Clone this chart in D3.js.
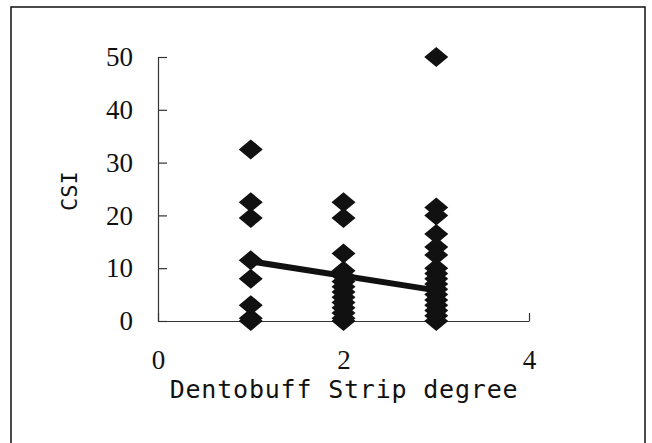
<!DOCTYPE html>
<html>
<head>
<meta charset="utf-8">
<script src="https://cdn.jsdelivr.net/npm/d3@7"></script>
<style>
  body { margin: 0; background: #fff; }
  #root { width: 652px; height: 443px; }
</style>
</head>
<body>
<div id="root"></div>
<script>
// Strip degree groups and the CSI values
const degree1 = [32.5, 22.5, 19.5, 11.5, 8, 3, 0.5, 0];
const degree2 = [22.5, 19.5, 12.8, 9.5, 8.5, 7.5, 6.5, 5.5, 4.5, 3.5, 2.5, 1.5, 0.5, 0];
const degree3 = [50, 21.5, 20, 16.5, 14, 12.5, 10, 9, 8, 7, 6, 5, 4, 3, 2, 1, 0];
const trendX = [1, 3];
const trendY = [11.3, 5.8];
const xTicks = [0, 2, 4];
const yTicks = [0, 10, 20, 30, 40, 50];

const root = document.getElementById('root');
const width = 652, height = 443;

const points = [];
degree1.forEach(v => points.push({ x: 1, y: v }));
degree2.forEach(v => points.push({ x: 2, y: v }));
degree3.forEach(v => points.push({ x: 3, y: v }));

const svg = d3.select(root)
    .append('svg')
    .attr('width', width)
    .attr('height', height);

// outer frame (runs past the bottom edge)
svg.append('rect')
    .attr('x', 11).attr('y', 7)
    .attr('width', 634).attr('height', 460)
    .attr('fill', 'none')
    .attr('stroke', '#111')
    .attr('stroke-width', 1.5);

const x = d3.scaleLinear().domain([0, 4]).range([158, 529]);
const y = d3.scaleLinear().domain([0, 50]).range([321, 57]);

// axes
const yAxis = d3.axisLeft(y)
    .tickValues(yTicks)
    .tickSizeInner(-9)
    .tickSizeOuter(0)
    .tickPadding(25)
    .tickFormat(d3.format('d'));
const xAxis = d3.axisBottom(x)
    .tickValues(xTicks)
    .tickSizeInner(-8)
    .tickSizeOuter(0)
    .tickPadding(29)
    .tickFormat(d3.format('d'));

const gy = svg.append('g')
    .attr('transform', `translate(${x(0)},0)`)
    .call(yAxis);
const gx = svg.append('g')
    .attr('transform', `translate(0,${y(0)})`)
    .call(xAxis);

[gx, gy].forEach(g => {
    g.selectAll('path, line').attr('stroke', '#333').attr('stroke-width', 1.2);
    g.selectAll('text')
        .attr('font-family', '"Liberation Serif", serif')
        .attr('font-size', 27)
        .attr('fill', '#111');
});

// axis titles
svg.append('text')
    .text('CSI')
    .attr('text-anchor', 'middle')
    .attr('font-family', '"DejaVu Sans Mono", monospace')
    .attr('font-size', 22)
    .attr('fill', '#111')
    .attr('transform', 'translate(77,191) rotate(-90)');
svg.append('text')
    .text('Dentobuff Strip degree')
    .attr('text-anchor', 'middle')
    .attr('font-family', '"DejaVu Sans Mono", monospace')
    .attr('font-size', 25)
    .attr('letter-spacing', 0.8)
    .attr('fill', '#111')
    .attr('x', 344)
    .attr('y', 398);

// trend line
svg.append('path')
    .datum(trendX.map((d, i) => [d, trendY[i]]))
    .attr('d', d3.line().x(d => x(d[0])).y(d => y(d[1])))
    .attr('fill', 'none')
    .attr('stroke', '#111')
    .attr('stroke-width', 6);

// diamond markers
const dw = 12, dh = 10;
svg.selectAll('.pt')
    .data(points)
    .enter()
    .append('path')
    .attr('class', 'pt')
    .attr('d', `M0,${-dh}L${dw},0L0,${dh}L${-dw},0Z`)
    .attr('transform', d => `translate(${x(d.x)},${y(d.y)})`)
    .attr('fill', '#111');
</script>
</body>
</html>
